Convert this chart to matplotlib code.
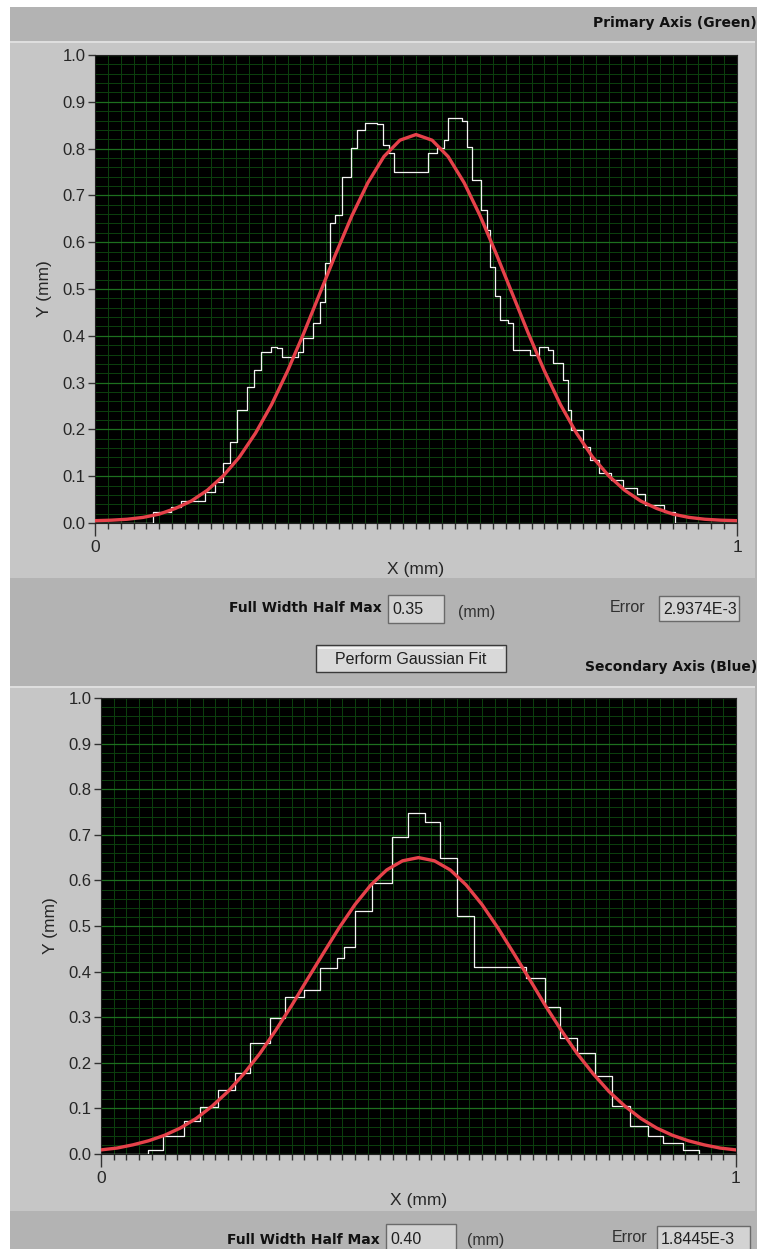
import numpy as np
import matplotlib
matplotlib.use('Agg')
import matplotlib.pyplot as plt
from matplotlib.patches import Rectangle

# measured profile, primary axis (step trace)
top_x = [0.0, 0.091, 0.119, 0.134, 0.172, 0.187, 0.200, 0.211, 0.221, 0.237, 0.248, 0.258, 0.274, 0.284,
         0.292, 0.316, 0.324, 0.340, 0.350, 0.358, 0.366, 0.374, 0.385, 0.398, 0.408, 0.421, 0.440, 0.448,
         0.458, 0.466, 0.519, 0.532, 0.543, 0.550, 0.571, 0.579, 0.587, 0.602, 0.610, 0.615, 0.623, 0.631,
         0.644, 0.651, 0.677, 0.692, 0.705, 0.713, 0.729, 0.737, 0.742, 0.760, 0.771, 0.785, 0.803, 0.823,
         0.844, 0.857, 0.886, 0.904, 1.0]
top_y = [0.0, 0.024, 0.035, 0.046, 0.067, 0.088, 0.128, 0.174, 0.241, 0.291, 0.327, 0.366, 0.377, 0.373,
         0.355, 0.366, 0.395, 0.427, 0.473, 0.555, 0.640, 0.658, 0.740, 0.801, 0.840, 0.855, 0.852, 0.808,
         0.790, 0.751, 0.790, 0.801, 0.818, 0.865, 0.860, 0.804, 0.733, 0.669, 0.626, 0.548, 0.484, 0.434,
         0.427, 0.370, 0.359, 0.377, 0.370, 0.341, 0.306, 0.241, 0.199, 0.163, 0.135, 0.106, 0.092, 0.074,
         0.063, 0.038, 0.024, 0.0, 0.0]

# measured profile, secondary axis (step trace)
bot_x = [0.0, 0.0745, 0.098, 0.130, 0.156, 0.185, 0.211, 0.235, 0.266, 0.290, 0.319, 0.345, 0.371, 0.382,
         0.400, 0.426, 0.458, 0.484, 0.510, 0.534, 0.560, 0.588, 0.670, 0.699, 0.723, 0.749, 0.778, 0.804,
         0.833, 0.862, 0.885, 0.917, 0.941, 1.0]
bot_y = [0.0, 0.009, 0.039, 0.072, 0.104, 0.140, 0.178, 0.243, 0.299, 0.345, 0.360, 0.407, 0.430, 0.453,
         0.533, 0.594, 0.696, 0.748, 0.727, 0.650, 0.523, 0.409, 0.387, 0.323, 0.255, 0.221, 0.171, 0.105,
         0.061, 0.039, 0.025, 0.009, 0.0, 0.0]

# gaussian fit curves, x = 0 .. 1 in steps of 0.025
fit_x = np.linspace(0, 1, 41)
top_fit = [0.005, 0.006, 0.008, 0.012, 0.019, 0.031, 0.047, 0.070, 0.101, 0.141, 0.192, 0.253, 0.325, 0.405,
           0.490, 0.575, 0.656, 0.727, 0.783, 0.818, 0.830, 0.818, 0.783, 0.727, 0.656, 0.575, 0.490, 0.405,
           0.325, 0.253, 0.192, 0.141, 0.101, 0.070, 0.047, 0.031, 0.019, 0.012, 0.008, 0.006, 0.005]
bot_fit = [0.009, 0.013, 0.020, 0.029, 0.041, 0.057, 0.078, 0.105, 0.137, 0.176, 0.220, 0.271, 0.325, 0.383,
           0.440, 0.496, 0.547, 0.590, 0.623, 0.643, 0.650, 0.643, 0.623, 0.590, 0.547, 0.496, 0.440, 0.383,
           0.325, 0.271, 0.220, 0.176, 0.137, 0.105, 0.078, 0.057, 0.041, 0.029, 0.020, 0.013, 0.009]

fwhm_top, err_top = "0.35", "2.9374E-3"
fwhm_bot, err_bot = "0.40", "1.8445E-3"

W, H = 759, 1249
HEADER = '#b3b3b3'
PANEL = '#c6c6c6'
SANS = ['Liberation Sans', 'DejaVu Sans']
plt.rcParams['font.family'] = SANS

fig = plt.figure(figsize=(W / 100, H / 100), dpi=100, facecolor='white')


def rect(x0, y0, x1, y1, fc, ec='none', lw=0, z=-10):
    fig.add_artist(Rectangle((x0 / W, 1 - y1 / H), (x1 - x0) / W, (y1 - y0) / H,
                             transform=fig.transFigure, facecolor=fc, edgecolor=ec,
                             linewidth=lw, zorder=z))


def txt(x, y, s, **kw):
    kw.setdefault('va', 'center')
    fig.text(x / W, 1 - y / H, s, **kw)


def bold(x, y, s, **kw):
    txt(x, y, s, fontsize=10, fontweight='bold', family='DejaVu Sans', color='#111111', **kw)


def value_box(x0, y0, x1, y1, s, size=11.5):
    rect(x0, y0, x1, y1, '#d3d3d3', ec='#6a6a6a', lw=1.0, z=-5)
    txt(x0 + 4, (y0 + y1) / 2 + 1, s, fontsize=size, color='#202020')


def plot_panel(box, xs, ys, fit):
    x0, y0, x1, y1 = box
    ax = fig.add_axes([x0 / W, 1 - y1 / H, (x1 - x0) / W, (y1 - y0) / H])
    ax.set_facecolor('black')
    ax.set_xlim(0, 1)
    ax.set_ylim(0, 1)
    ax.set_xticks([0, 1])
    ax.set_xticklabels(['0', '1'])
    ax.set_xticks(np.arange(0, 1.001, 0.02), minor=True)
    yt = np.arange(0, 1.001, 0.1)
    ax.set_yticks(yt)
    ax.set_yticklabels([f'{v:.1f}' for v in yt])
    ax.set_yticks(np.arange(0, 1.001, 0.02), minor=True)
    ax.set_axisbelow(True)
    ax.grid(which='minor', color='#0c400e', lw=0.7)
    ax.grid(which='major', axis='x', color='#0c400e', lw=0.7)
    ax.grid(which='major', axis='y', color='#1d6f1f', lw=0.9)
    ax.tick_params(axis='y', which='major', length=5, width=1, color='#333333', pad=2,
                   labelsize=12, labelcolor='#262626')
    ax.tick_params(axis='y', which='minor', length=0)
    ax.tick_params(axis='x', which='major', length=9, width=1, color='#333333', pad=3,
                   labelsize=12.5, labelcolor='#262626')
    ax.tick_params(axis='x', which='minor', length=4, width=1, color='#333333')
    for sp in ax.spines.values():
        sp.set_color('#202020')
        sp.set_linewidth(0.8)
    ax.step(xs, ys, where='post', color='#f4f4f4', lw=0.9, zorder=3)
    ax.plot(fit_x, fit, color='#e6414a', lw=2.4, zorder=4, solid_capstyle='round')
    ax.set_ylabel('Y (mm)', fontsize=12.5, color='#262626', labelpad=7)
    ax.set_xlabel('X (mm)', fontsize=12.5, color='#262626', labelpad=5)
    return ax


# background frames
rect(10, 7, 757, H, HEADER)
rect(10, 41, 755, 578, PANEL)
rect(10, 41, 755, 43, '#dedede', z=-9)
rect(10, 686, 755, 1211, PANEL)
rect(10, 686, 755, 688, '#dedede', z=-9)

# headers
bold(757, 23, 'Primary Axis (Green)', ha='right')
bold(757, 667, 'Secondary Axis (Blue)', ha='right')

plot_panel((95, 55, 737, 523), top_x, top_y, top_fit)
plot_panel((101, 698, 736, 1154), bot_x, bot_y, bot_fit)

# controls between the plots
bold(382, 608, 'Full Width Half Max', ha='right')
value_box(388, 595, 444, 623, fwhm_top)
txt(458, 612, '(mm)', fontsize=11.5, color='#303030')
txt(610, 608, 'Error', fontsize=11.5, color='#303030')
value_box(659, 596, 739, 621, err_top)

rect(316, 645, 506, 672, '#d9d9d9', ec='#3a3a3a', lw=1.0, z=-5)
rect(318, 647, 503, 648.5, '#f2f2f2', z=-4)
txt(411, 659, 'Perform Gaussian Fit', ha='center', fontsize=11.5, color='#202020')

# controls under the lower plot
bold(380, 1240, 'Full Width Half Max', ha='right')
value_box(386, 1224, 456, 1252, fwhm_bot)
txt(467, 1241, '(mm)', fontsize=11.5, color='#303030')
txt(612, 1237, 'Error', fontsize=11.5, color='#303030')
value_box(657, 1226, 750, 1252, err_bot)

fig.savefig('out.png', dpi=100, facecolor='white')
